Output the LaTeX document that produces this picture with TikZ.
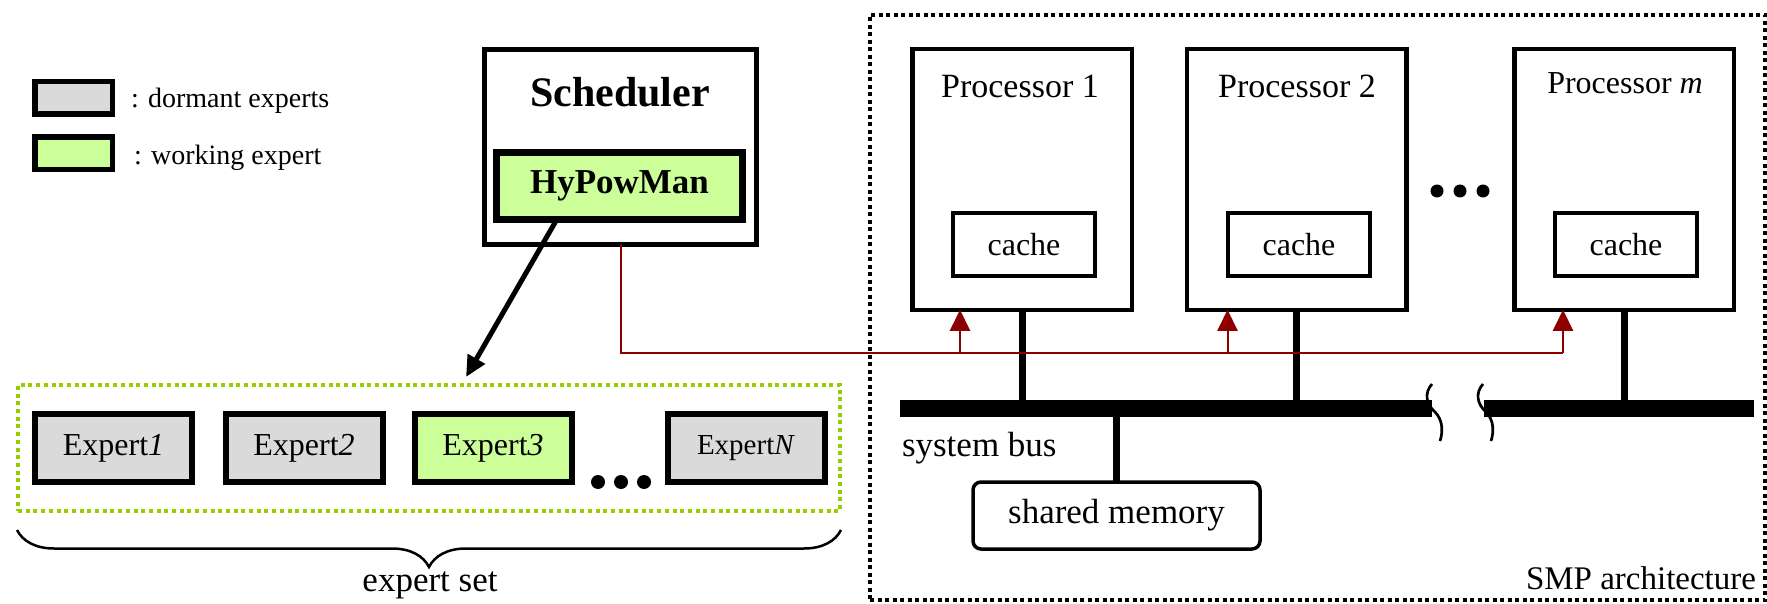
\documentclass[tikz,border=0pt]{standalone}
\usepackage{fontspec}
\setmainfont{Liberation Serif}
\usetikzlibrary{arrows.meta,calc,decorations.pathreplacing}
\definecolor{dormant}{RGB}{218,218,218}
\definecolor{working}{RGB}{204,255,153}
\definecolor{setgreen}{RGB}{153,204,0}
\definecolor{ctrlred}{RGB}{140,0,0}
\newcommand\pxfont[1]{\fontsize{#1}{#1}\selectfont}
\begin{document}
\begin{tikzpicture}[x=1pt,y=-1pt,
  every node/.style={inner sep=0pt,outer sep=0pt},
  legbox/.style={draw,line width=5.5pt,minimum width=77.5pt,minimum height=32.5pt},
  expbox/.style={draw,line width=6pt,minimum width=157pt,minimum height=68pt,font=\pxfont{32}},
  procbox/.style={draw,line width=4.5pt,minimum width=219.5pt,minimum height=260.5pt},
  cachebox/.style={draw,line width=4pt,minimum width=142pt,minimum height=63pt,font=\pxfont{32}},
  proclabel/.style={font=\pxfont{34}},
  busseg/.style={fill=black,minimum height=17pt},
  buslink/.style={line width=7pt},
  ctrl/.style={ctrlred,line width=2pt},
  ctrltip/.style={-{Triangle[length=21pt,width=20pt]}},
  brk/.style={line width=2.7pt},
  dotmark/.style={fill=black}]
\useasboundingbox (0,0) rectangle (1767,604);

% legend
\node[legbox,fill=dormant] (legD) at (73.5,98) {};
\node[anchor=west,font=\pxfont{28}] (legDt) at (131,101) {: dormant experts};
\node[legbox,fill=working] (legW) at (73.5,153.5) {};
\node[anchor=west,font=\pxfont{28}] (legWt) at (134,158) {: working expert};

% scheduler with the power manager
\node[draw,line width=5pt,minimum width=272pt,minimum height=195pt] (sched) at (620.5,147) {};
\node[font=\pxfont{42}\bfseries] (schedt) at (620,92) {Scheduler};
\node[draw,line width=7pt,fill=working,minimum width=246pt,minimum height=67pt,font=\pxfont{35}\bfseries] (hyp) at (619.5,186) {HyPowMan};

% expert set
\node[draw=setgreen,line width=4pt,dash pattern=on 4pt off 3.7pt,minimum width=822pt,minimum height=126pt] (eset) at (429,448) {};
\node[expbox,fill=dormant] (e1) at (113.5,448) {Expert\textit{1}};
\node[expbox,fill=dormant] (e2) at (304,448) {Expert\textit{2}};
\node[expbox,fill=working] (e3) at (493,448) {Expert\textit{3}};
\node[expbox,fill=dormant,font=\pxfont{29}] (eN) at (746,448) {Expert\textit{N}};
\fill[dotmark] (598,482) circle (7) (621,482) circle (7) (644,482) circle (7);
\draw[line width=2.5pt,decorate,decoration={brace,mirror,amplitude=37pt}] (17,530) -- (841,530);
\node[font=\pxfont{35}] (esett) at (430,585) {expert set};

% scheduler selects an expert
\coordinate (hypout) at ($(hyp.south west)!0.245!(hyp.south east)$);
\coordinate (atip) at (466,377);
\draw[line width=5pt,-{Triangle[length=21pt,width=19pt]}] (hypout) -- (atip);

% SMP architecture
\node[draw,line width=4pt,dash pattern=on 4pt off 3.5pt,minimum width=895pt,minimum height=585pt] (smp) at (1317.5,307.5) {};
\node[procbox] (p1) at (1022,179.5) {};
\node[procbox] (p2) at (1296.5,179.5) {};
\node[procbox] (pm) at (1624,179.5) {};
\node[proclabel] (p1t) at (1020,86) {Processor 1};
\node[proclabel] (p2t) at (1297,86) {Processor 2};
\node[font=\pxfont{32}] (pmt) at (1625,83) {Processor \textit{m}};
\node[cachebox] (c1) at (1024,244.5) {cache};
\node[cachebox] (c2) at (1299,244.5) {cache};
\node[cachebox] (cm) at (1626,244.5) {cache};
\fill[dotmark] (1437,191) circle (6.5) (1460,191) circle (6.5) (1483,191) circle (6.5);

% system bus, broken between processor 2 and processor m
\node[busseg,minimum width=532pt] (busL) at (1166,408.5) {};
\node[busseg,minimum width=270pt] (busR) at (1619,408.5) {};
\draw[brk] (1432,384) .. controls (1424,393) and (1426,404) .. (1435,412) .. controls (1443,420) and (1443,432) .. (1440,441);
\draw[brk] (1483,384) .. controls (1475,393) and (1477,404) .. (1486,412) .. controls (1494,420) and (1494,432) .. (1491,441);
\draw[buslink] (p1.south) -- (p1.south |- busL.north);
\draw[buslink] (p2.south) -- (p2.south |- busL.north);
\draw[buslink] (pm.south) -- (pm.south |- busR.north);
\node[anchor=west,font=\pxfont{35}] (bust) at (902,448) {system bus};
\node[draw,rounded corners=8pt,line width=3.5pt,minimum width=287pt,minimum height=67pt,font=\pxfont{35}] (mem) at (1116.5,515.5) {shared memory};
\draw[buslink] (mem.north) -- (mem.north |- busL.south);
\node[anchor=east,font=\pxfont{33}] (smpt) at (1756,578) {SMP architecture};

% control lines from the power manager to the processors
\coordinate (a1) at ([xshift=-62pt]p1.south);
\coordinate (a2) at ([xshift=-69pt]p2.south);
\coordinate (a3) at ([xshift=-61pt]pm.south);
\coordinate (rl) at (0,353);
\draw[ctrl] (sched.south) |- (a3 |- rl);
\draw[ctrl,ctrltip] (a1 |- rl) -- (a1);
\draw[ctrl,ctrltip] (a2 |- rl) -- (a2);
\draw[ctrl,ctrltip] (a3 |- rl) -- (a3);
\end{tikzpicture}
\end{document}
